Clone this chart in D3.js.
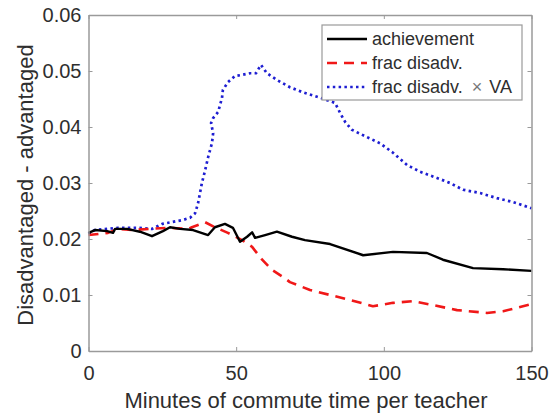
<!DOCTYPE html>
<html>
<head>
<meta charset="utf-8">
<script src="https://cdn.jsdelivr.net/npm/d3@7"></script>
<style>
  html, body { margin: 0; padding: 0; background: #fff; }
  svg { display: block; font-family: "Liberation Sans", Arial, sans-serif; }
</style>
</head>
<body>
<svg id="chart" width="553" height="415"></svg>
<script>
// Commute time (minutes) and the disadvantaged-minus-advantaged gap
const achievementX = [0, 2.2, 6.3, 8.3, 9.0, 13.0, 17.4, 21.5, 25.2, 27.6, 31.0, 35.4, 40.5, 42.8, 46.2, 48.9, 51.3, 53.7, 55.4, 56.4, 59.8, 63.8, 68.9, 73.3, 81.8, 93.0, 103.1, 114.6, 120.0, 130.2, 140.4, 150];
const achievementY = [0.0211, 0.0216, 0.0214, 0.0211, 0.0218, 0.0218, 0.0213, 0.0205, 0.0214, 0.0221, 0.0218, 0.0216, 0.0207, 0.0221, 0.0227, 0.0220, 0.0195, 0.0204, 0.0212, 0.0202, 0.0207, 0.0213, 0.0204, 0.0198, 0.0191, 0.0171, 0.0177, 0.0175, 0.0163, 0.0148, 0.0146, 0.0143];

const fracX = [0, 6.6, 10.0, 14.7, 26.9, 33.7, 35.0, 39.5, 42.8, 47.2, 52.0, 55.4, 58.8, 62.1, 66.5, 68.2, 75.0, 81.8, 88.6, 96.3, 103.1, 109.9, 116.6, 124.8, 134.9, 140.4, 147.1, 150];
const fracY = [0.0207, 0.0211, 0.0218, 0.0216, 0.0220, 0.0218, 0.0221, 0.0230, 0.0221, 0.0211, 0.0198, 0.0186, 0.0163, 0.0145, 0.0130, 0.0123, 0.0109, 0.0100, 0.0091, 0.0080, 0.0086, 0.0089, 0.0082, 0.0073, 0.0068, 0.0071, 0.0080, 0.0084];

const vaX = [0, 2, 10, 17, 21.5, 25, 32, 34.4, 36.1, 37.1, 38.4, 39.5, 40.5, 41.8, 42.2, 41.5, 42.2, 43.9, 45.2, 45.5, 47.2, 49.6, 52.0, 54.7, 56.7, 58.4, 60.4, 63.8, 68.2, 72.6, 77.4, 80.8, 83.5, 85.2, 86.9, 89.2, 94.3, 98.7, 103.1, 107.9, 112.3, 118.0, 122.4, 126.8, 132.6, 138.3, 143.7, 150];
const vaY = [0.0209, 0.0216, 0.0220, 0.0220, 0.0218, 0.0227, 0.0234, 0.0238, 0.0246, 0.0264, 0.0300, 0.0323, 0.0346, 0.0371, 0.0389, 0.0407, 0.0416, 0.0427, 0.0452, 0.0466, 0.0480, 0.0491, 0.0493, 0.0496, 0.0496, 0.0511, 0.0496, 0.0484, 0.0471, 0.0462, 0.0454, 0.0448, 0.0443, 0.0425, 0.0409, 0.0395, 0.0382, 0.0371, 0.0354, 0.0332, 0.0320, 0.0309, 0.0300, 0.0288, 0.0282, 0.0273, 0.0266, 0.0255];

const xTicks = [0, 50, 100, 150];
const yTicks = [0, 0.01, 0.02, 0.03, 0.04, 0.05, 0.06];
const seriesNames = ["achievement", "frac disadv.", "frac disadv. \u00d7 VA"];

const svg = d3.select("#chart");
const plotLeft = 88.5, plotRight = 531.5, plotTop = 15, plotBottom = 351;

const x = d3.scaleLinear().domain([0, 150]).range([plotLeft, plotRight]);
const y = d3.scaleLinear().domain([0, 0.06]).range([plotBottom, plotTop]);

const axisColor = "#9a9a9a";
const textColor = "#2e2e2e";

const series = [
  { name: seriesNames[0], xs: achievementX, ys: achievementY, color: "#000", width: 2.4, dash: null },
  { name: seriesNames[1], xs: fracX, ys: fracY, color: "#f01818", width: 2.6, dash: "10,7" },
  { name: seriesNames[2], xs: vaX, ys: vaY, color: "#1e1ed2", width: 2.7, dash: "2.5,3.3" }
];

const line = d3.line().x(d => x(d[0])).y(d => y(d[1]));

// Data lines, drawn underneath the box
const plot = svg.append("g");
series.slice().reverse().forEach(s => {
  plot.append("path")
    .datum(s.xs.map((v, i) => [v, s.ys[i]]))
    .attr("d", line)
    .attr("fill", "none")
    .attr("stroke", s.color)
    .attr("stroke-width", s.width)
    .attr("stroke-linejoin", "round")
    .attr("stroke-dasharray", s.dash);
});

// Box-style axes with inward ticks on all four sides
function styleAxis(g) {
  g.select(".domain").attr("stroke", axisColor).attr("stroke-width", 1.5);
  g.selectAll(".tick line").attr("stroke", axisColor).attr("stroke-width", 1);
  g.selectAll(".tick text").attr("fill", textColor)
    .style("font-size", "20px")
    .style("font-family", "'Liberation Sans', Arial, sans-serif");
}

svg.append("g").attr("transform", `translate(0,${plotBottom})`)
  .call(d3.axisBottom(x).tickValues(xTicks).tickSize(-4).tickPadding(15).tickSizeOuter(0))
  .call(styleAxis)
  .call(g => g.selectAll(".tick text").attr("dy", "0.71em"));

svg.append("g").attr("transform", `translate(0,${plotTop})`)
  .call(d3.axisTop(x).tickValues(xTicks).tickSize(-4).tickSizeOuter(0).tickFormat(""))
  .call(styleAxis);

svg.append("g").attr("transform", `translate(${plotLeft},0)`)
  .call(d3.axisLeft(y).tickValues(yTicks).tickSize(-4).tickPadding(7).tickSizeOuter(0)
    .tickFormat(d => d === 0 ? "0" : d3.format(".2f")(d)))
  .call(styleAxis);

svg.append("g").attr("transform", `translate(${plotRight},0)`)
  .call(d3.axisRight(y).tickValues(yTicks).tickSize(-4).tickSizeOuter(0).tickFormat(""))
  .call(styleAxis);

// Axis titles
svg.append("text")
  .attr("x", 306).attr("y", 408)
  .attr("text-anchor", "middle")
  .attr("fill", textColor)
  .style("font-size", "22px")
  .text("Minutes of commute time per teacher");

svg.append("text")
  .attr("transform", "translate(33,185) rotate(-90)")
  .attr("text-anchor", "middle")
  .attr("fill", textColor)
  .style("font-size", "22px")
  .text("Disadvantaged - advantaged");

// Legend
const legend = svg.append("g");
legend.append("rect")
  .attr("x", 322).attr("y", 25).attr("width", 200).attr("height", 75)
  .attr("fill", "#fff").attr("stroke", axisColor).attr("stroke-width", 1.2);

series.forEach((s, i) => {
  const ly = 39 + i * 24;
  legend.append("line")
    .attr("x1", 327).attr("x2", 367).attr("y1", ly).attr("y2", ly)
    .attr("stroke", s.color).attr("stroke-width", s.width)
    .attr("stroke-dasharray", s.dash);
  const t = legend.append("text")
    .attr("x", 372).attr("y", ly + 6)
    .attr("fill", textColor)
    .style("font-size", "18px");
  // The multiplication sign is set lighter and with wider spacing
  const parts = s.name.split(" \u00d7 ");
  t.append("tspan").text(parts[0]);
  if (parts.length > 1) {
    t.append("tspan").attr("dx", 9).attr("fill", "#777").style("font-weight", "300").text("\u00d7");
    t.append("tspan").attr("dx", 7).text(parts[1]);
  }
});
</script>
</body>
</html>
